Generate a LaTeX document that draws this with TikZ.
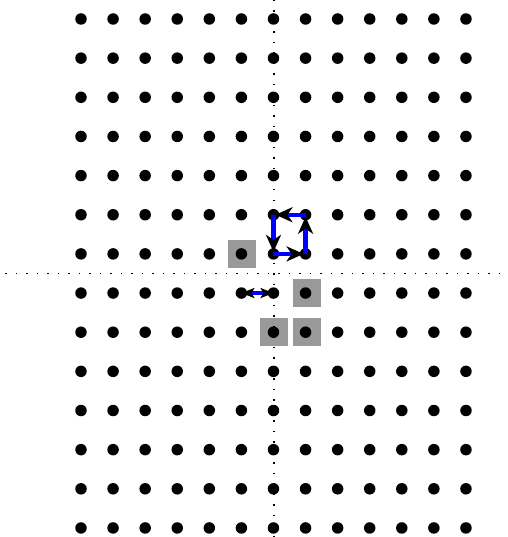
\documentclass[tikz,border=0pt]{standalone}
\usetikzlibrary{arrows.meta}
\begin{document}
\begin{tikzpicture}[x=1pt,y=-1pt,
  dot/.style={circle,fill=black,inner sep=0pt,minimum width=10.5pt,minimum height=11.5pt},
  graysq/.style={fill=black!40,draw=none},
  axis/.style={line width=1.3pt,dash pattern=on 1.5pt off 9pt},
  bluearrow/.style={blue,line width=4.4pt,-{Stealth[color=black,length=17pt,width=15pt,inset=5pt]},shorten >=2pt},
  smallarrow/.style={blue,line width=3.6pt,{Stealth[color=black,length=13pt,width=10pt,inset=3pt]}-{Stealth[color=black,length=13pt,width=10pt,inset=3pt]}}]
\useasboundingbox (0,0) rectangle (507,537);
% gray squares
\fill[graysq] (227.5,240) rectangle (255.5,268);
\fill[graysq] (292.5,279) rectangle (320.5,307);
\fill[graysq] (260,318) rectangle (288,346);
\fill[graysq] (292.5,318) rectangle (320.5,346);
% axes
\draw[axis] (274,0) -- (274,537);
\draw[axis] (5,273.5) -- (505,273.5);
% grid of dots
\foreach \i in {0,...,12}{
  \foreach \j in {0,...,13}{
    \pgfmathsetmacro{\xx}{81+32.08*\i}
    \pgfmathsetmacro{\yy}{19+39.15*\j}
    \node[dot] (d-\i-\j) at (\xx,\yy) {};
  }
}
% cycle
\draw[bluearrow] (d-7-5.center) -- (d-6-5.center);
\draw[bluearrow] (d-6-5.center) -- (d-6-6.center);
\draw[bluearrow] (d-6-6.center) -- (d-7-6.center);
\draw[bluearrow] (d-7-6.center) -- (d-7-5.center);
% small double arrow
\draw[smallarrow] (d-5-7.center) -- (d-6-7.center);
\end{tikzpicture}
\end{document}
